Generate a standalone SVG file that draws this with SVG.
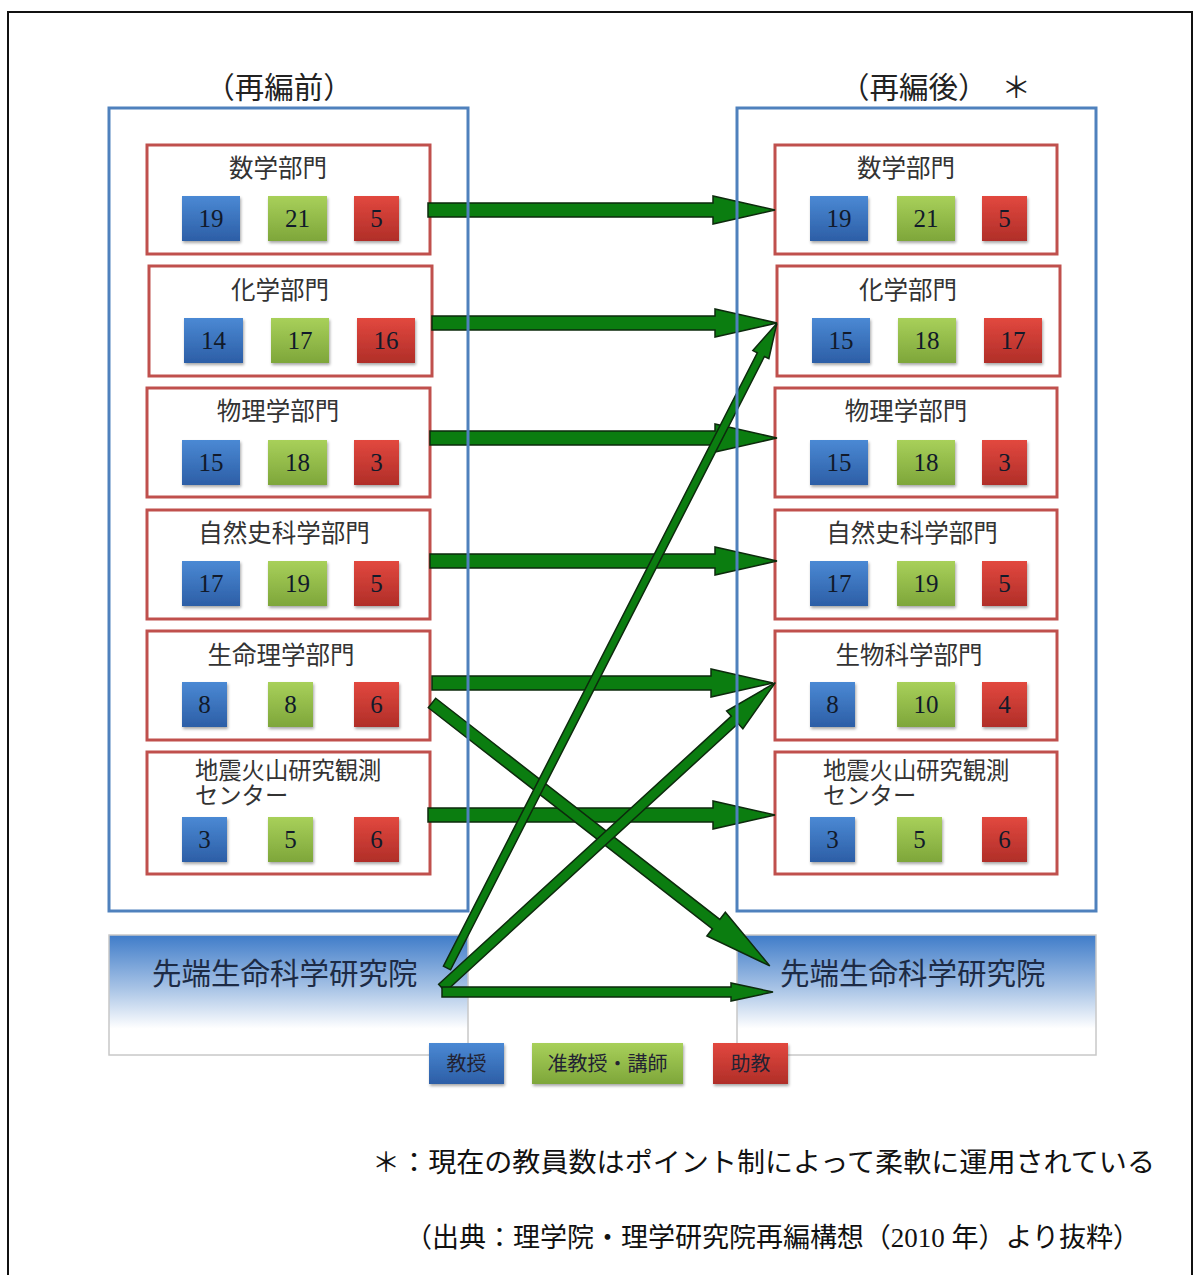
<svg xmlns="http://www.w3.org/2000/svg" width="1194" height="1275" viewBox="0 0 1194 1275">
<style>
text{font-family:"Liberation Serif","Noto Sans CJK JP",serif;}
.hd{font-size:29.5px;fill:#222;text-anchor:middle;}
.tt{font-size:24.5px;fill:#333;text-anchor:middle;}
.tl{font-size:23.3px;fill:#333;}
.n{font-size:25px;fill:#111a2a;text-anchor:middle;}
.node{fill:#fff;stroke:#c0504d;stroke-width:3;}
.frame{fill:none;stroke:#4f81bd;stroke-width:3;}
.gbox{fill:url(#gg);stroke:#c8c8c8;stroke-width:1.5;}
.big{font-size:29.5px;fill:#1d2b45;}
.sb{fill:url(#gb);filter:url(#sh);}
.sg{fill:url(#ggr);filter:url(#sh);}
.sr{fill:url(#gr);filter:url(#sh);}
.arr{fill:#0b7d10;stroke:#0d2a0d;stroke-width:1.5;stroke-linejoin:miter;}
.lg{font-size:20px;fill:#223;text-anchor:middle;}
.fn{font-size:27px;fill:#111;}
</style>
<defs>
<linearGradient id="gb" x1="0" y1="0" x2="0" y2="1"><stop offset="0" stop-color="#4b89d4"/><stop offset="1" stop-color="#2c5ea6"/></linearGradient>
<linearGradient id="ggr" x1="0" y1="0" x2="0" y2="1"><stop offset="0" stop-color="#a8d05a"/><stop offset="1" stop-color="#7ea63a"/></linearGradient>
<linearGradient id="gr" x1="0" y1="0" x2="0" y2="1"><stop offset="0" stop-color="#e2483f"/><stop offset="1" stop-color="#b02e28"/></linearGradient>
<linearGradient id="gg" x1="0" y1="0" x2="0" y2="1"><stop offset="0" stop-color="#3f7cc9"/><stop offset="0.45" stop-color="#a9c4e6"/><stop offset="0.78" stop-color="#ffffff"/><stop offset="1" stop-color="#ffffff"/></linearGradient>
<filter id="sh" x="-20%" y="-20%" width="150%" height="150%"><feDropShadow dx="1" dy="2" stdDeviation="1.5" flood-color="#000" flood-opacity="0.35"/></filter>
</defs>
<rect x="0" y="0" width="1194" height="1275" fill="#fff"/>
<rect x="8" y="12" width="1184" height="1290" fill="none" stroke="#111" stroke-width="2"/>

<text class="hd" x="279" y="98">（再編前）</text>
<text class="hd" x="840" y="98" style="text-anchor:start">（再編後）<tspan dx="14">＊</tspan></text>

<g id="sentan-before"><rect class="gbox" x="109" y="935" width="359" height="120"/><text class="big" x="152" y="984">先端生命科学研究院</text></g>
<g id="sentan-after"><rect class="gbox" x="737" y="935" width="359" height="120"/><text class="big" x="780" y="984">先端生命科学研究院</text></g>

<g id="L1"><rect class="node" x="147" y="145" width="283" height="109"/><text class="tt" x="278" y="177">数学部門</text>
<rect class="sb" x="182" y="196" width="58" height="45"/><text class="n" x="211" y="227">19</text>
<rect class="sg" x="268" y="196" width="59" height="45"/><text class="n" x="297.5" y="227">21</text>
<rect class="sr" x="354" y="196" width="45" height="45"/><text class="n" x="376.5" y="227">5</text></g>

<g id="L2"><rect class="node" x="149" y="266" width="283" height="110"/><text class="tt" x="280" y="299">化学部門</text>
<rect class="sb" x="184" y="318" width="59" height="45"/><text class="n" x="213.5" y="349">14</text>
<rect class="sg" x="271" y="318" width="58" height="45"/><text class="n" x="300" y="349">17</text>
<rect class="sr" x="357" y="318" width="58" height="45"/><text class="n" x="386" y="349">16</text></g>

<g id="L3"><rect class="node" x="147" y="388" width="283" height="109"/><text class="tt" x="278" y="420">物理学部門</text>
<rect class="sb" x="182" y="440" width="58" height="45"/><text class="n" x="211" y="471">15</text>
<rect class="sg" x="268" y="440" width="59" height="45"/><text class="n" x="297.5" y="471">18</text>
<rect class="sr" x="354" y="440" width="45" height="45"/><text class="n" x="376.5" y="471">3</text></g>

<g id="L4"><rect class="node" x="147" y="510" width="283" height="109"/><text class="tt" x="284" y="542">自然史科学部門</text>
<rect class="sb" x="182" y="561" width="58" height="45"/><text class="n" x="211" y="592">17</text>
<rect class="sg" x="268" y="561" width="59" height="45"/><text class="n" x="297.5" y="592">19</text>
<rect class="sr" x="354" y="561" width="45" height="45"/><text class="n" x="376.5" y="592">5</text></g>

<g id="L5"><rect class="node" x="147" y="631" width="283" height="109"/><text class="tt" x="281" y="664">生命理学部門</text>
<rect class="sb" x="182" y="682" width="45" height="45"/><text class="n" x="204.5" y="713">8</text>
<rect class="sg" x="268" y="682" width="45" height="45"/><text class="n" x="290.5" y="713">8</text>
<rect class="sr" x="354" y="682" width="45" height="45"/><text class="n" x="376.5" y="713">6</text></g>

<g id="L6"><rect class="node" x="147" y="752" width="283" height="122"/><text class="tl" x="195" y="779">地震火山研究観測</text><text class="tl" x="195" y="804">センター</text>
<rect class="sb" x="182" y="817" width="45" height="45"/><text class="n" x="204.5" y="848">3</text>
<rect class="sg" x="268" y="817" width="45" height="45"/><text class="n" x="290.5" y="848">5</text>
<rect class="sr" x="354" y="817" width="45" height="45"/><text class="n" x="376.5" y="848">6</text></g>

<g id="R1"><rect class="node" x="775" y="145" width="282" height="109"/><text class="tt" x="906" y="177">数学部門</text>
<rect class="sb" x="810" y="196" width="58" height="45"/><text class="n" x="839" y="227">19</text>
<rect class="sg" x="897" y="196" width="58" height="45"/><text class="n" x="926" y="227">21</text>
<rect class="sr" x="982" y="196" width="45" height="45"/><text class="n" x="1004.5" y="227">5</text></g>

<g id="R2"><rect class="node" x="777" y="266" width="283" height="110"/><text class="tt" x="908" y="299">化学部門</text>
<rect class="sb" x="812" y="318" width="58" height="45"/><text class="n" x="841" y="349">15</text>
<rect class="sg" x="898" y="318" width="58" height="45"/><text class="n" x="927" y="349">18</text>
<rect class="sr" x="984" y="318" width="58" height="45"/><text class="n" x="1013" y="349">17</text></g>

<g id="R3"><rect class="node" x="775" y="388" width="282" height="109"/><text class="tt" x="906" y="420">物理学部門</text>
<rect class="sb" x="810" y="440" width="58" height="45"/><text class="n" x="839" y="471">15</text>
<rect class="sg" x="897" y="440" width="58" height="45"/><text class="n" x="926" y="471">18</text>
<rect class="sr" x="982" y="440" width="45" height="45"/><text class="n" x="1004.5" y="471">3</text></g>

<g id="R4"><rect class="node" x="775" y="510" width="282" height="109"/><text class="tt" x="912" y="542">自然史科学部門</text>
<rect class="sb" x="810" y="561" width="58" height="45"/><text class="n" x="839" y="592">17</text>
<rect class="sg" x="897" y="561" width="58" height="45"/><text class="n" x="926" y="592">19</text>
<rect class="sr" x="982" y="561" width="45" height="45"/><text class="n" x="1004.5" y="592">5</text></g>

<g id="R5"><rect class="node" x="775" y="631" width="282" height="109"/><text class="tt" x="909" y="664">生物科学部門</text>
<rect class="sb" x="810" y="682" width="45" height="45"/><text class="n" x="832.5" y="713">8</text>
<rect class="sg" x="897" y="682" width="58" height="45"/><text class="n" x="926" y="713">10</text>
<rect class="sr" x="982" y="682" width="45" height="45"/><text class="n" x="1004.5" y="713">4</text></g>

<g id="R6"><rect class="node" x="775" y="752" width="282" height="122"/><text class="tl" x="823" y="779">地震火山研究観測</text><text class="tl" x="823" y="804">センター</text>
<rect class="sb" x="810" y="817" width="45" height="45"/><text class="n" x="832.5" y="848">3</text>
<rect class="sg" x="897" y="817" width="45" height="45"/><text class="n" x="919.5" y="848">5</text>
<rect class="sr" x="982" y="817" width="45" height="45"/><text class="n" x="1004.5" y="848">6</text></g>

<g id="connectors">
<polygon class="arr" transform="translate(428,210)" points="0,-7 285,-7 285,-14 347,0 285,14 285,7 0,7"/>
<polygon class="arr" transform="translate(432,323)" points="0,-7 283,-7 283,-14 345,0 283,14 283,7 0,7"/>
<polygon class="arr" transform="translate(430,438)" points="0,-7 285,-7 285,-14 347,0 285,14 285,7 0,7"/>
<polygon class="arr" transform="translate(430,561)" points="0,-7 285,-7 285,-14 347,0 285,14 285,7 0,7"/>
<polygon class="arr" transform="translate(432,683)" points="0,-7 279,-7 279,-14 341,0 279,14 279,7 0,7"/>
<polygon class="arr" transform="translate(428,815)" points="0,-7 285,-7 285,-14 347,0 285,14 285,7 0,7"/>
<polygon class="arr" transform="translate(432,703) rotate(37.89)" points="0,-6 360,-6 360,-15 428,0 360,15 360,6 0,6"/>
<polygon class="arr" transform="translate(447,968) rotate(-62.9)" points="0,-4 689,-4 689,-9 724,0 689,9 689,4 0,4"/>
<polygon class="arr" transform="translate(442,988) rotate(-42.49)" points="0,-5 397,-5 397,-12 452,0 397,12 397,5 0,5"/>
<polygon class="arr" transform="translate(442,992)" points="0,-5 289,-5 289,-9 331,0 289,9 289,5 0,5"/>
</g>

<g id="before"><rect class="frame" x="109" y="108" width="359" height="803"/></g>
<g id="after"><rect class="frame" x="737" y="108" width="359" height="803"/></g>

<g id="legend">
<rect class="sb" x="429" y="1043" width="75" height="41"/><text class="lg" x="466.5" y="1071">教授</text>
<rect class="sg" x="532" y="1043" width="151" height="41"/><text class="lg" x="607.5" y="1071">准教授・講師</text>
<rect class="sr" x="713" y="1043" width="75" height="41"/><text class="lg" x="750.5" y="1071">助教</text>
</g>

<text class="fn" x="372" y="1172" textLength="783" lengthAdjust="spacingAndGlyphs">＊：現在の教員数はポイント制によって柔軟に運用されている</text>
<text class="fn" x="405" y="1247" textLength="735" lengthAdjust="spacingAndGlyphs">（出典：理学院・理学研究院再編構想（2010 年）より抜粋）</text>
</svg>
